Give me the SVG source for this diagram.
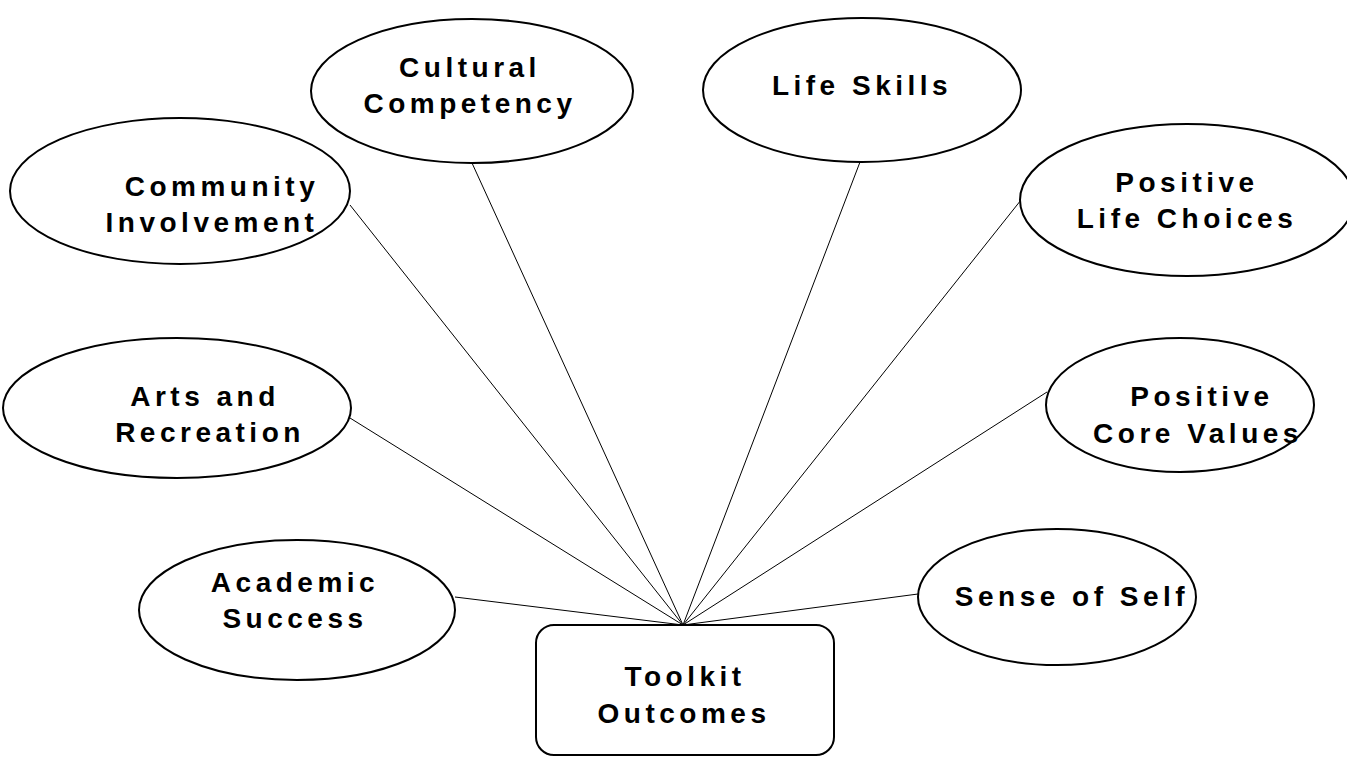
<svg xmlns="http://www.w3.org/2000/svg" width="1347" height="758" viewBox="0 0 1347 758">
<style>
.n{fill:#fff;stroke:#000;stroke-width:2}
.t{font-family:"Liberation Sans",Arial,sans-serif;font-weight:bold;font-size:28px;letter-spacing:4.5px;fill:#000;text-anchor:middle}
.c{stroke:#000;stroke-width:1;fill:none}
</style>
<rect width="1347" height="758" fill="#fff"/>
<g id="connectors">
<line class="c" x1="350" y1="205" x2="683" y2="625"/>
<line class="c" x1="472" y1="163" x2="683" y2="625"/>
<line class="c" x1="860" y1="162" x2="683" y2="625"/>
<line class="c" x1="1021" y1="200" x2="683" y2="625"/>
<line class="c" x1="350" y1="418" x2="683" y2="625"/>
<line class="c" x1="1047" y1="392" x2="683" y2="625"/>
<line class="c" x1="455" y1="597" x2="683" y2="625"/>
<line class="c" x1="918" y1="594" x2="683" y2="625"/>
</g>
<g id="cultural"><ellipse class="n" cx="472" cy="91" rx="161" ry="72"/><text class="t" x="470" y="77">Cultural</text><text class="t" x="470" y="113">Competency</text></g>
<g id="lifeskills"><ellipse class="n" cx="862" cy="90" rx="159" ry="72"/><text class="t" x="862" y="95">Life Skills</text></g>
<g id="community"><ellipse class="n" cx="180" cy="191" rx="170" ry="73"/><text class="t" x="222" y="196">Community</text><text class="t" x="212" y="232">Involvement</text></g>
<g id="lifechoices"><ellipse class="n" cx="1187" cy="200" rx="167" ry="76"/><text class="t" x="1187" y="192">Positive</text><text class="t" x="1187" y="228">Life Choices</text></g>
<g id="arts"><ellipse class="n" cx="177" cy="408" rx="174" ry="70"/><text class="t" x="205" y="406">Arts and</text><text class="t" x="210" y="442">Recreation</text></g>
<g id="corevalues"><ellipse class="n" cx="1180" cy="405" rx="134" ry="67"/><text class="t" x="1202" y="406">Positive</text><text class="t" x="1198" y="443">Core Values</text></g>
<g id="academic"><ellipse class="n" cx="297" cy="610" rx="158" ry="70"/><text class="t" x="295" y="592">Academic</text><text class="t" x="295" y="628">Success</text></g>
<g id="sense"><ellipse class="n" cx="1057" cy="597" rx="139" ry="68"/><text class="t" x="1072" y="606">Sense of Self</text></g>
<g id="toolkit"><rect class="n" x="536" y="625" width="298" height="130" rx="18"/><text class="t" x="685" y="686">Toolkit</text><text class="t" x="684" y="723">Outcomes</text></g>
</svg>
